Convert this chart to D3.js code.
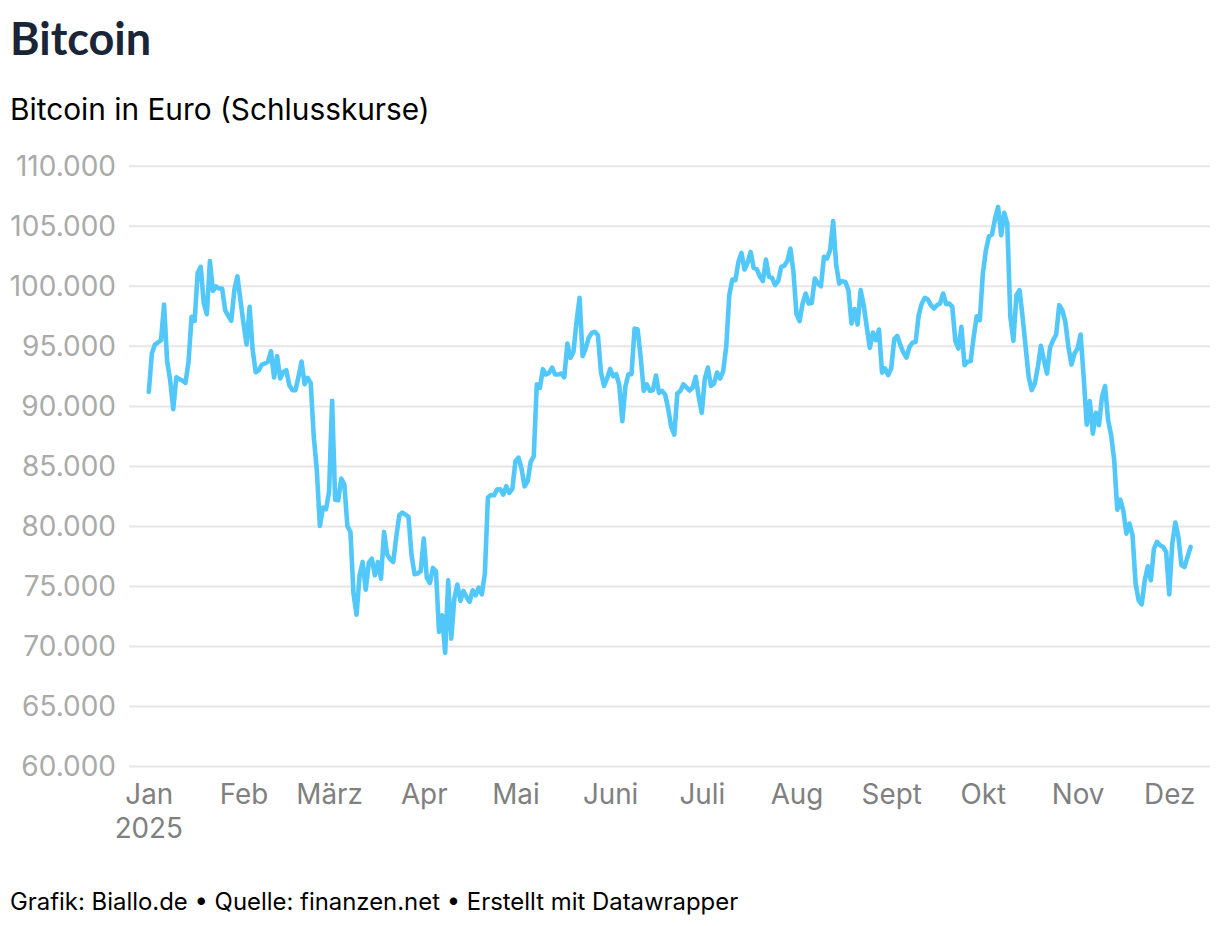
<!DOCTYPE html>
<html>
<head>
<meta charset="utf-8">
<script src="https://cdn.jsdelivr.net/npm/d3@7"></script>
<style>
  body { margin: 0; background: #fff; }
  svg { display: block; }
  text { font-family: Inter, sans-serif; }
</style>
</head>
<body>
<script>
// daily closes in euro, first value is 1 Jan 2025
const startDay = Date.UTC(2025, 0, 1);
const closes = [
  91170, 94360, 95110, 95280, 95470, 98440, 93720, 92140, 89720, 92390, 92220, 92110, 91920, 93670, 97420, 97080,
  101080, 101580, 98530, 97640, 102060, 99580, 99950, 99780, 99780, 97970, 97500, 97080, 99640, 100800, 98800,
  96860, 95110, 98250, 94640, 92800, 92970, 93440, 93530, 93670, 94560, 92360, 94140, 92280, 92830, 92970, 91720,
  91310, 91310, 92420, 93690, 91800, 92330, 91900, 87420, 84640, 80000, 81530, 81390, 82830, 90420, 82190, 82140,
  83940, 83470, 80000, 79500, 74360, 72610, 75890, 77000, 74690, 76920, 77280, 75890, 77000, 75610, 79500, 77640,
  77220, 77000, 79080, 80890, 81110, 80940, 80750, 77560, 75970, 76030, 76250, 78940, 75670, 75250, 76500, 76220,
  71170, 72560, 69420, 75470, 70610, 73940, 75110, 73750, 74580, 74080, 73670, 74640, 74220, 74860, 74300, 76030,
  82360, 82580, 82550, 83030, 83060, 82610, 83310, 82750, 83080, 85390, 85690, 84780, 83300, 83720, 85330, 85800,
  91800, 91500, 93060, 92610, 92750, 93190, 92610, 92610, 92700, 92390, 95190, 94000, 94500, 97000, 99000, 94140,
  94780, 95690, 96080, 96170, 95890, 92830, 91670, 92280, 93080, 92470, 92640, 91720, 88720, 91640, 92640, 92640,
  96440, 96360, 94080, 91250, 91800, 91250, 91310, 92530, 91080, 91250, 90940, 89780, 88250, 87610, 91030, 91250,
  91800, 91530, 91280, 91530, 92420, 90750, 89420, 92280, 93190, 91670, 91860, 92780, 92280, 92890, 94920, 99220,
  100530, 100470, 102000, 102750, 101360, 101940, 102830, 101500, 101390, 100800, 100390, 102190, 100750, 100670,
  100060, 100390, 101580, 101670, 102060, 103110, 101170, 97640, 97060, 98530, 99360, 98530, 98580, 100610, 100190,
  99970, 102420, 102280, 102970, 105390, 101720, 100190, 100390, 100330, 99640, 96860, 98060, 96780, 99640, 98390,
  96580, 94830, 96110, 95470, 96360, 92780, 93110, 92560, 93110, 95560, 95830, 95060, 94440, 94030, 94920, 95280,
  95330, 97560, 98530, 99000, 98860, 98390, 98110, 98390, 98530, 99360, 98470, 98530, 98250, 95400, 94780, 96580,
  93390, 93670, 93720, 95750, 97470, 97140, 101030, 102970, 104140, 104280, 105610, 106580, 104220, 106080, 105190,
  97420, 95420, 99220, 99640, 97420, 94920, 92420, 91310, 91860, 93250, 95000, 93810, 92690, 94860, 95470, 95940,
  98390, 97970, 97000, 94920, 93440, 94360, 94780, 95940, 92420, 88440, 90400, 87690, 89420, 88390, 90750, 91650,
  88810, 87560, 85470, 81360, 82190, 81220, 79360, 80190, 79220, 75190, 73800, 73470, 75470, 76640, 75470, 78110,
  78670, 78390, 78250, 77830, 74300, 78530, 80280, 79080, 76720, 76580, 77420, 78250
];
const monthLabels = ["Jan", "Feb", "März", "Apr", "Mai", "Juni", "Juli", "Aug", "Sept", "Okt", "Nov", "Dez"];
const yTicks = [60000, 65000, 70000, 75000, 80000, 85000, 90000, 95000, 100000, 105000, 110000];

const width = 1220, height = 926;
const plotLeft = 129, plotRight = 1210;
const fmt = d3.formatLocale({decimal: ",", thousands: ".", grouping: [3], currency: ["", " €"]}).format(",d");

const days = closes.map((d, i) => new Date(startDay + i * 864e5));
const months = monthLabels.map((d, i) => new Date(Date.UTC(2025, i, 1)));

const svg = d3.select("body").append("svg")
  .attr("width", width)
  .attr("height", height);

const x = d3.scaleUtc()
  .domain(d3.extent(days))
  .range([148.8, 1190.6]);

const y = d3.scaleLinear()
  .domain([60000, 110000])
  .range([766, 165.8]);

// horizontal grid comes from the y axis ticks
const yAxis = d3.axisLeft(y)
  .tickValues(yTicks)
  .tickFormat(fmt)
  .tickSize(-(plotRight - plotLeft))
  .tickPadding(13);

svg.append("g")
  .attr("class", "y-axis")
  .attr("transform", `translate(${plotLeft}, 0)`)
  .call(yAxis)
  .call(g => g.select(".domain").remove())
  .call(g => g.selectAll("line").attr("stroke", "#e6e6e6").attr("stroke-width", 2))
  .call(g => g.selectAll("text")
    .attr("fill", "#aaaaaa")
    .attr("dy", "0.35em")
    .style("font-size", "28px")
    .style("font-family", "Inter, sans-serif"));

const xAxis = d3.axisBottom(x)
  .tickValues(months)
  .tickFormat((d, i) => monthLabels[i])
  .tickSize(0)
  .tickPadding(18);

svg.append("g")
  .attr("class", "x-axis")
  .attr("transform", "translate(0, 766)")
  .call(xAxis)
  .call(g => g.select(".domain").remove())
  .call(g => g.selectAll("text")
    .attr("fill", "#808080")
    .style("font-size", "27.8px")
    .style("font-family", "Inter, sans-serif"));

svg.append("text")
  .attr("x", x(months[0]))
  .attr("y", 838)
  .attr("text-anchor", "middle")
  .attr("fill", "#808080")
  .style("font-size", "27.8px")
  .text("2025");

const line = d3.line()
  .x((d, i) => x(days[i]))
  .y(d => y(d));

svg.append("path")
  .datum(closes)
  .attr("fill", "none")
  .attr("stroke", "#52c8fa")
  .attr("stroke-width", 4.6)
  .attr("stroke-linejoin", "round")
  .attr("stroke-linecap", "round")
  .attr("d", line);

svg.append("text")
  .attr("x", 10)
  .attr("y", 55)
  .attr("fill", "#1a2638")
  .style("font-family", "Lato, sans-serif")
  .style("font-weight", 700)
  .style("font-size", "45px")
  .text("Bitcoin");

svg.append("text")
  .attr("x", 10)
  .attr("y", 120)
  .attr("fill", "#000")
  .style("font-size", "29.8px")
  .text("Bitcoin in Euro (Schlusskurse)");

svg.append("text")
  .attr("x", 10)
  .attr("y", 910)
  .attr("fill", "#000")
  .style("font-size", "23.9px")
  .text("Grafik: Biallo.de • Quelle: finanzen.net • Erstellt mit Datawrapper");
</script>
</body>
</html>
